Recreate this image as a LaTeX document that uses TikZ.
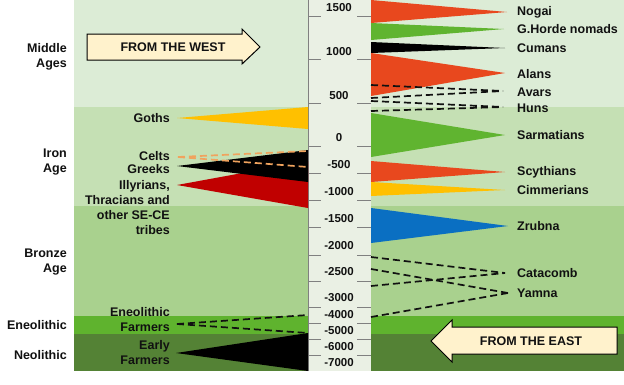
\documentclass[tikz,border=0pt]{standalone}
\usepackage{fontspec}
\setmainfont{Liberation Sans}
\definecolor{bgmid}{HTML}{DCECD6}
\definecolor{bgiron}{HTML}{C5E0B4}
\definecolor{bgbronze}{HTML}{A9D18E}
\definecolor{bgeneo}{HTML}{5FB32E}
\definecolor{bgneo}{HTML}{548235}
\definecolor{axisbg}{HTML}{EAF0E4}
\definecolor{tred}{HTML}{E8481E}
\definecolor{tgreen}{HTML}{60B430}
\definecolor{tyellow}{HTML}{FFC000}
\definecolor{tblue}{HTML}{0A6FC2}
\definecolor{tdred}{HTML}{C00000}
\definecolor{celtc}{HTML}{F0A35E}
\definecolor{arrowfill}{HTML}{FFF2CC}
\definecolor{txt}{HTML}{111111}
\begin{document}
\begin{tikzpicture}[x=1pt,y=-1pt,
 lbl/.style={font=\bfseries\fontsize{12.5}{15}\selectfont, text=txt, inner sep=0pt},
 rl/.style={lbl, anchor=west},
 ll/.style={lbl, anchor=east, align=right},
 ax/.style={font=\bfseries\fontsize{11.5}{13}\selectfont, text=txt, inner sep=0pt},
 tickline/.style={draw=gray, line width=0.9pt},
 dline/.style={draw=txt, line width=1.7pt, dash pattern=on 7pt off 4pt},
 cline/.style={draw=celtc, line width=1.7pt, dash pattern=on 7pt off 4pt},
 blockarrow/.style={draw=black, line width=1pt, fill=arrowfill},
]
\useasboundingbox (0,0) rectangle (624,384);
\fill[white] (0,0) rectangle (624,384);
% bands
\fill[bgmid] (74,0) rectangle (624,107);
\fill[bgiron] (74,107) rectangle (624,206);
\fill[bgbronze] (74,206) rectangle (624,316);
\fill[bgeneo] (74,316) rectangle (624,334);
\fill[bgneo] (74,334) rectangle (624,371);
% axis column
\fill[axisbg] (308,0) rectangle (371,371);
\draw[gray, line width=0.6pt] (308,0) -- (308,371);
\foreach \y in {16,59,103,146,173,200,227,255,281,307,323,339,355}{
  \draw[tickline] (308,\y) -- (321,\y) (357,\y) -- (371,\y);
}
\node[ax] (a1500) at (339,8) {1500};
\node[ax] (a1000) at (339,52) {1000};
\node[ax] (a500) at (339,96) {500};
\node[ax] (a0) at (339,138) {0};
\node[ax] (am500) at (339,165) {-500};
\node[ax] (am1000) at (339,192) {-1000};
\node[ax] (am1500) at (339,219) {-1500};
\node[ax] (am2000) at (339,246) {-2000};
\node[ax] (am2500) at (339,272) {-2500};
\node[ax] (am3000) at (339,298) {-3000};
\node[ax] (am4000) at (339,315) {-4000};
\node[ax] (am5000) at (339,331) {-5000};
\node[ax] (am6000) at (339,347) {-6000};
\node[ax] (am7000) at (339,363) {-7000};
% right wedges
\fill[tred] (371,0) -- (371,23) -- (507,12) -- cycle;
\fill[tgreen] (371,23) -- (371,40) -- (504,29) -- cycle;
\fill[black] (371,42) -- (371,53) -- (505,48) -- cycle;
\fill[tred] (371,53) -- (371,96) -- (505,73) -- cycle;
\fill[tgreen] (371,113) -- (371,157) -- (505,135) -- cycle;
\fill[tred] (371,161) -- (371,182) -- (505,172) -- cycle;
\fill[tyellow] (371,182) -- (371,196) -- (505,190) -- cycle;
\fill[tblue] (371,208) -- (371,243) -- (508,226) -- cycle;
% left wedges
\fill[tyellow] (308,107) -- (308,129) -- (177,118) -- cycle;
\fill[tdred] (308,161) -- (308,208) -- (177,185) -- cycle;
\fill[black] (308,150) -- (308,182) -- (177,166) -- cycle;
\fill[black] (308,333) -- (308,371) -- (176,353) -- cycle;
% dashed connectors
\coordinate (celtsP) at (178,157);
\coordinate (celtsA) at (308,151);
\coordinate (celtsB) at (308,167);
\draw[cline] (celtsP) -- (celtsA) (celtsP) -- (celtsB);
\coordinate (eneoP) at (177,324);
\coordinate (eneoA) at (308,315);
\coordinate (eneoB) at (308,333);
\draw[dline] (eneoP) -- (eneoA) (eneoP) -- (eneoB);
\coordinate (avarsP) at (503,91);
\coordinate (avarsA) at (371,85);
\coordinate (avarsB) at (371,98);
\draw[dline] (avarsA) -- (avarsP) (avarsB) -- (avarsP);
\coordinate (hunsP) at (503,107);
\coordinate (hunsA) at (371,101);
\coordinate (hunsB) at (371,111);
\draw[dline] (hunsA) -- (hunsP) (hunsB) -- (hunsP);
\coordinate (cataP) at (505,273);
\coordinate (cataA) at (371,257);
\coordinate (cataB) at (371,286);
\draw[dline] (cataA) -- (cataP) (cataB) -- (cataP);
\coordinate (yamP) at (508,293);
\coordinate (yamA) at (371,269);
\coordinate (yamB) at (371,317);
\draw[dline] (yamA) -- (yamP) (yamB) -- (yamP);
% right labels
\node[rl] (nogai) at (517,12) {Nogai};
\node[rl] (horde) at (517,29) {G.Horde nomads};
\node[rl] (cumans) at (517,48) {Cumans};
\node[rl] (alans) at (517,74) {Alans};
\node[rl] (avars) at (517,92) {Avars};
\node[rl] (huns) at (517,108) {Huns};
\node[rl] (sarm) at (517,135) {Sarmatians};
\node[rl] (scyth) at (517,172) {Scythians};
\node[rl] (cimm) at (517,190) {Cimmerians};
\node[rl] (zrubna) at (517,226) {Zrubna};
\node[rl] (cata) at (517,273) {Catacomb};
\node[rl] (yamna) at (517,293) {Yamna};
% left labels
\node[ll] (goths) at (170,118) {Goths};
\node[ll] (celts) at (170,156) {Celts};
\node[ll] (greeks) at (170,169) {Greeks};
\node[ll] (illyr) at (170,207.5) {Illyrians,\\Thracians and\\other SE-CE\\tribes};
\node[ll] (eneof) at (170,319.5) {Eneolithic\\Farmers};
\node[ll] (earlyf) at (170,353) {Early\\Farmers};
% era labels
\node[ll] (middle) at (67,56.5) {Middle\\Ages};
\node[ll] (iron) at (67,162.5) {Iron\\Age};
\node[ll] (bronze) at (67,262.5) {Bronze\\Age};
\node[ll] (eneo) at (67,325) {Eneolithic};
\node[ll] (neo) at (67,355) {Neolithic};
% block arrows
\draw[blockarrow] (87,34) -- (242,34) -- (242,29) -- (260,47) -- (242,64) -- (242,60) -- (87,60) -- cycle;
\node[lbl] (west) at (173,47) {FROM THE WEST};
\draw[blockarrow] (617,327) -- (452,327) -- (452,320) -- (431,341) -- (452,362) -- (452,354) -- (617,354) -- cycle;
\node[lbl] (east) at (531,341) {FROM THE EAST};
\end{tikzpicture}
\end{document}
